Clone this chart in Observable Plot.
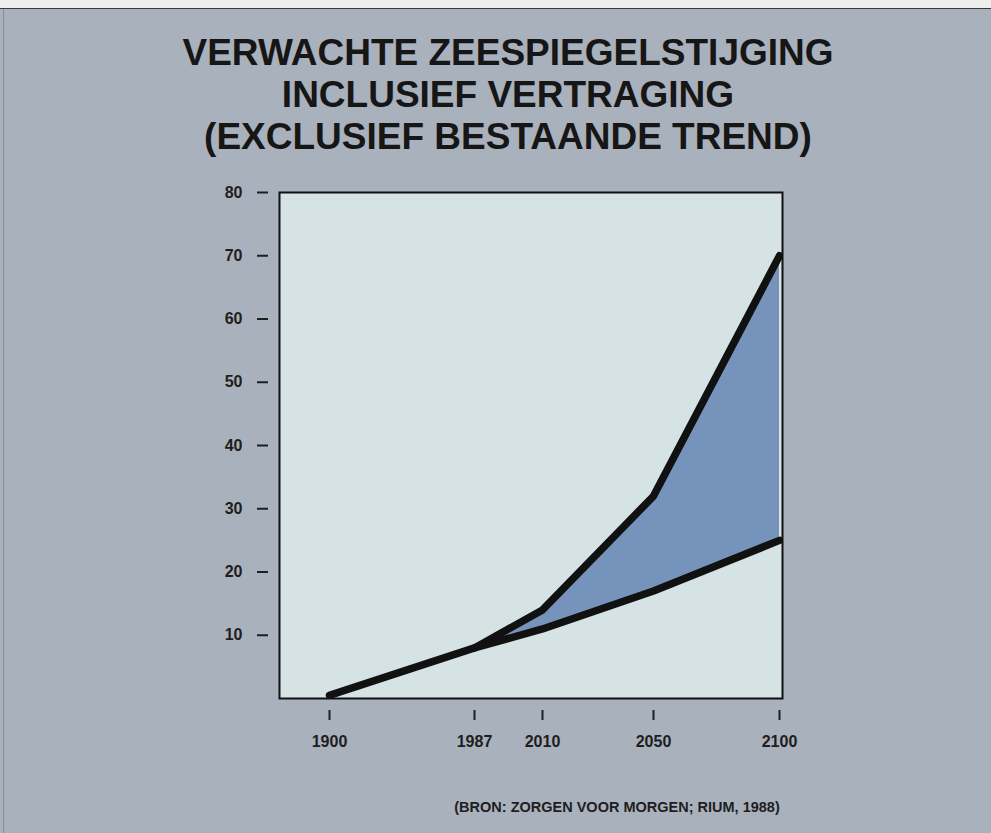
<!DOCTYPE html>
<html>
<head>
<meta charset="utf-8">
<script src="https://cdn.jsdelivr.net/npm/d3@7"></script>
<script src="https://cdn.jsdelivr.net/npm/@observablehq/plot@0.6"></script>
<style>
  html, body { margin: 0; padding: 0; }
  body { width: 991px; height: 833px; background: #a9b1bc; position: relative; overflow: hidden;
         font-family: "Liberation Sans", Arial, Helvetica, sans-serif; color: #1a1a1a; }
  #topstrip { position: absolute; left: 0; top: 0; width: 991px; height: 8px; background: #eeefec; border-bottom: 1px solid #3a3a3a; }
  #leftline { position: absolute; left: 3px; top: 9px; width: 1px; height: 824px; background: #6f757d; opacity: 0.6; }
  #title { position: absolute; left: 508px; top: 32px; transform: translateX(-50%); white-space: nowrap;
           text-align: center; font-weight: bold; font-size: 37px; line-height: 42px; color: #161616; }
  #chart { position: absolute; left: 0; top: 170px; }
  #caption { position: absolute; left: 617px; top: 799px; transform: translateX(-50%); white-space: nowrap;
             font-weight: bold; font-size: 14.5px; color: #1e1e1e; }
</style>
</head>
<body>
<div id="topstrip"></div>
<div id="leftline"></div>
<div id="title">VERWACHTE ZEESPIEGELSTIJGING<br>INCLUSIEF VERTRAGING<br>(EXCLUSIEF BESTAANDE TREND)</div>
<div id="chart"></div>
<div id="caption">(BRON: ZORGEN VOOR MORGEN; RIUM, 1988)</div>
<script>
// Data (cm sea-level rise)
const years = [1900, 1987, 2010, 2050, 2100];
const lowRise = [0.5, 8, 11, 17, 25];        // onderste lijn
const highRise = [null, 8, 14, 32, 70];      // bovenste lijn (vanaf 1987)
const yTicks = [10, 20, 30, 40, 50, 60, 70, 80];
const xTicks = [1900, 1987, 2010, 2050, 2100];

const rows = years.map((year, i) => ({year, low: lowRise[i], high: highRise[i]}));
const band = rows.filter(d => d.high != null);

const chart = Plot.plot({
  width: 991,
  height: 600,
  marginLeft: 279,
  marginRight: 209,
  marginTop: 22,
  marginBottom: 72,
  style: {
    background: "transparent",
    fontFamily: "'Liberation Sans', Arial, Helvetica, sans-serif",
    fontSize: "16px",
    fontWeight: "bold",
    color: "#1e1e1e",
    overflow: "visible"
  },
  x: {type: "linear", domain: years, range: [329, 474, 542, 653, 779]},
  y: {domain: [0, 80]},
  marks: [
    Plot.frame({fill: "#d6e3e5"}),
    Plot.areaY(band, {x: "year", y1: "low", y2: "high", fill: "#7694bb"}),
    Plot.line(band, {x: "year", y: "high", stroke: "#111", strokeWidth: 7.5, strokeLinejoin: "round", clip: true}),
    Plot.line(rows, {x: "year", y: "low", stroke: "#111", strokeWidth: 7.5, strokeLinejoin: "round", clip: true}),
    Plot.frame({stroke: "#111", strokeWidth: 2}),
    Plot.axisY({ticks: yTicks, tickSize: 11, dx: -11, tickPadding: 15, strokeWidth: 2, label: null, tickFormat: d => String(d)}),
    Plot.axisX({ticks: xTicks, tickSize: 10, dy: 12, tickPadding: 15, strokeWidth: 2, label: null, tickFormat: d => String(d)})
  ]
});
document.getElementById("chart").appendChild(chart);
</script>
</body>
</html>
